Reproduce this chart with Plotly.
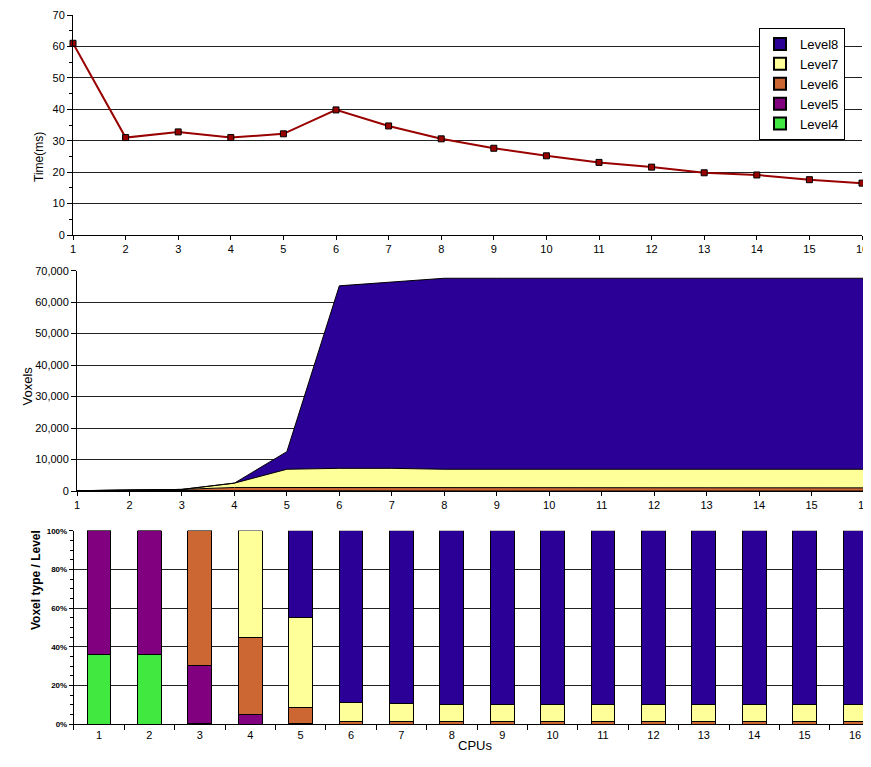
import plotly.graph_objects as go

cpus = list(range(1, 17))
cpu_labels = [str(c) for c in cpus]
time_ms = [61, 31, 32.8, 31, 32.2, 39.8, 34.7, 30.6, 27.6, 25.2, 23.1, 21.6, 19.8, 19.1, 17.6, 16.5]

level4 = [36, 72, 2, 0, 0, 0, 0, 0, 0, 0, 0, 0, 0, 0, 0, 0]
level5 = [64, 128, 150, 125, 60, 0, 0, 0, 0, 0, 0, 0, 0, 0, 0, 0]
level6 = [0, 0, 350, 1000, 1050, 1000, 1000, 1000, 1000, 1000, 1000, 1000, 1000, 1000, 1000, 1000]
level7 = [0, 0, 0, 1375, 5800, 6200, 6200, 5900, 5900, 5900, 5900, 5900, 5900, 5900, 5900, 5900]
level8 = [0, 0, 0, 0, 5600, 58000, 59100, 60700, 60700, 60700, 60700, 60700, 60700, 60700, 60700, 60700]

levels = [
    ("Level4", level4, "#40E840"),
    ("Level5", level5, "#800080"),
    ("Level6", level6, "#CC6633"),
    ("Level7", level7, "#FFFF99"),
    ("Level8", level8, "#2A0096"),
]

OFF = 8  # page body margin
W, H = 871 - OFF, 767 - OFF
def px(x):
    return (x - OFF) / W
def py(y):
    return 1 - (y - OFF) / H

FONT = "Liberation Sans, Arial, sans-serif"
GRID = "#222222"

fig = go.Figure()

# Top: time line
fig.add_trace(go.Scatter(
    x=cpus, y=time_ms, mode="lines+markers",
    line=dict(color="#990000", width=2),
    marker=dict(symbol="square", size=6, color="#990000", line=dict(color="black", width=1)),
    showlegend=False, xaxis="x", yaxis="y", cliponaxis=False,
))

# Middle: stacked area
for name, vals, col in levels:
    fig.add_trace(go.Scatter(
        x=cpus, y=vals, stackgroup="one", mode="lines",
        line=dict(color="black", width=1), fillcolor=col,
        name=name, showlegend=False, xaxis="x2", yaxis="y2",
    ))

# Bottom: 100% stacked bars
for name, vals, col in levels:
    fig.add_trace(go.Bar(
        x=cpu_labels, y=vals, name=name, width=0.47,
        marker=dict(color=col, line=dict(color="black", width=1)),
        xaxis="x3", yaxis="y3",
    ))

tickfont = dict(family=FONT, size=11, color="black")

fig.update_layout(
    width=W, height=H,
    margin=dict(l=0, r=0, t=0, b=0, autoexpand=False),
    paper_bgcolor="white", plot_bgcolor="white",
    barmode="stack", barnorm="percent",
    font=dict(family=FONT, color="black"),
    showlegend=True,
    legend=dict(
        x=px(759), y=py(28), xanchor="left", yanchor="top",
        bordercolor="black", borderwidth=1, bgcolor="white",
        traceorder="reversed", font=dict(family=FONT, size=13, color="black"),
        itemsizing="constant", tracegroupgap=0, itemwidth=30,
    ),
    # top
    xaxis=dict(
        domain=[px(73), px(862)], range=[1, 16], tickvals=cpus,
        showgrid=False, showline=True, linecolor="black", linewidth=1,
        ticks="outside", ticklen=4, tickcolor="black", tickfont=tickfont,
        zeroline=False, anchor="y", automargin=False,
    ),
    yaxis=dict(
        domain=[py(235), py(15)], range=[0, 70], dtick=10,
        showgrid=True, gridcolor=GRID, gridwidth=1,
        showline=True, linecolor="black", linewidth=1,
        ticks="outside", ticklen=5, tickcolor="black", tickfont=tickfont,
        minor=dict(dtick=5, ticks="outside", ticklen=3, tickcolor="black", showgrid=False),
        zeroline=False, anchor="x", automargin=False,
    ),
    # middle
    xaxis2=dict(
        domain=[px(77), px(864)], range=[1, 16], tickvals=cpus,
        showgrid=False, showline=True, linecolor="black", linewidth=1,
        ticks="outside", ticklen=4, tickcolor="black", tickfont=tickfont,
        zeroline=False, anchor="y2", automargin=False,
    ),
    yaxis2=dict(
        domain=[py(491), py(270.7)], range=[0, 70000],
        tickvals=[0, 10000, 20000, 30000, 40000, 50000, 60000, 70000],
        tickformat=",d", showgrid=False,
        showline=True, linecolor="black", linewidth=1,
        ticks="outside", ticklen=5, tickcolor="black", tickfont=tickfont,
        minor=dict(tickvals=[10000, 20000, 30000, 40000, 50000, 60000], showgrid=True,
                   gridcolor=GRID, gridwidth=1, ticks=""),
        zeroline=False, anchor="x2", automargin=False,
    ),
    # bottom
    xaxis3=dict(
        domain=[px(73.8), 1.0], type="category", range=[-0.5, 15.317],
        tickson="boundaries", showgrid=False, showline=True, linecolor="black", linewidth=1,
        ticks="outside", ticklen=5, tickcolor="black", tickfont=tickfont,
        zeroline=False, anchor="y3", automargin=False,
    ),
    yaxis3=dict(
        domain=[py(724.3), py(530.7)], range=[0, 100], dtick=20, ticksuffix="%",
        showgrid=True, gridcolor=GRID, gridwidth=1,
        showline=True, linecolor="black", linewidth=1,
        ticks="outside", ticklen=4, tickcolor="black",
        tickfont=dict(family=FONT, size=8, color="black", weight="bold"),
        minor=dict(dtick=5, ticks="outside", ticklen=3, tickcolor="black", showgrid=False),
        zeroline=False, anchor="x3", automargin=False,
    ),
    annotations=[
        dict(text="Time(ms)", x=px(30), y=py(130), xref="paper", yref="paper",
             textangle=-90, showarrow=False, font=dict(family=FONT, size=12, color="black")),
        dict(text="Voxels", x=px(17), y=py(386), xref="paper", yref="paper",
             textangle=-90, showarrow=False, font=dict(family=FONT, size=13, color="black")),
        dict(text="Voxel type / Level", x=px(27), y=py(632), xref="paper", yref="paper",
             textangle=-90, showarrow=False, font=dict(family=FONT, size=12, color="black", weight="bold")),
        dict(text="CPUs", x=px(475), y=py(755), xref="paper", yref="paper",
             showarrow=False, font=dict(family=FONT, size=13, color="black")),
    ],
)

fig.write_html("out.html")
